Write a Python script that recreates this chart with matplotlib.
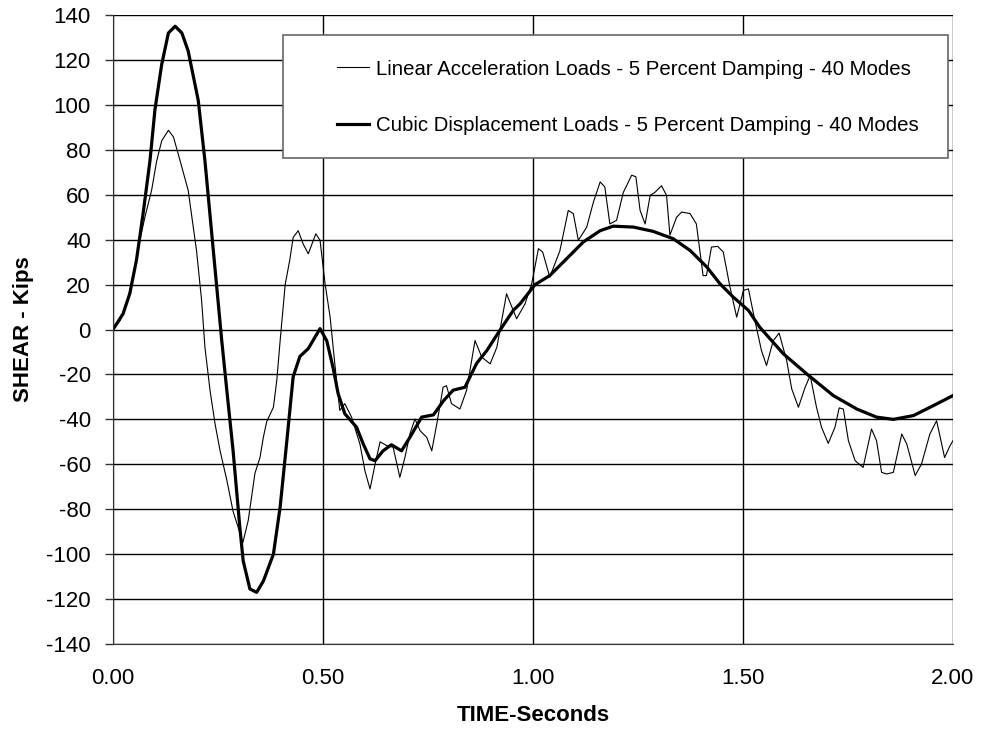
import matplotlib
matplotlib.use('Agg')
import matplotlib.pyplot as plt
from matplotlib.patches import Rectangle
import numpy as np

plt.rcParams['font.family'] = ['Liberation Sans', 'DejaVu Sans']
plt.rcParams['axes.unicode_minus'] = False

# cubic displacement loads (thick line)
t_cubic = [0.0, 0.024, 0.040, 0.056, 0.072, 0.088, 0.100, 0.116, 0.132, 0.148, 0.164, 0.179,
           0.203, 0.219, 0.239, 0.259, 0.271, 0.286, 0.302, 0.310, 0.326, 0.342, 0.358, 0.382,
           0.398, 0.414, 0.429, 0.445, 0.465, 0.493, 0.509, 0.524, 0.536, 0.552, 0.580, 0.596,
           0.612, 0.624, 0.643, 0.663, 0.687, 0.707, 0.735, 0.763, 0.787, 0.810, 0.838, 0.866,
           0.890, 0.921, 0.953, 0.969, 1.005, 1.040, 1.080, 1.120, 1.160, 1.191, 1.239, 1.286,
           1.334, 1.374, 1.414, 1.445, 1.477, 1.513, 1.540, 1.596, 1.652, 1.715, 1.771, 1.818,
           1.858, 1.906, 1.953, 2.0]
v_cubic = [0, 7, 16, 31, 52, 75, 98, 118, 132, 135, 132, 124,
           102, 75, 35, -5, -27, -54, -88, -103, -115.5, -117, -112, -100,
           -79, -49.5, -21, -12, -8.5, 0.4, -5, -17, -28.5, -37.5, -43.5, -51,
           -57.6, -58.4, -54, -51.3, -54, -48, -39, -38, -31.7, -27, -25.7, -15,
           -9.4, -0.4, 8.5, 11.4, 20, 24, 31.5, 39, 44, 46, 45.6, 43.7,
           40.4, 35.2, 27.8, 20.4, 14.4, 8.5, 1, -10.8, -19.8, -29.4, -35.4, -39,
           -40, -38.3, -33.9, -29.4]

# linear acceleration loads (thin line)
t_linear = [0.0, 0.017, 0.037, 0.056, 0.064, 0.076, 0.092, 0.104, 0.116, 0.132, 0.144, 0.160,
            0.179, 0.199, 0.211, 0.219, 0.231, 0.243, 0.255, 0.271, 0.286, 0.298, 0.309, 0.322,
            0.338, 0.350, 0.358, 0.366, 0.382, 0.390, 0.398, 0.410, 0.421, 0.429, 0.441, 0.453,
            0.465, 0.483, 0.493, 0.505, 0.517, 0.529, 0.540, 0.552, 0.568, 0.588, 0.600, 0.612,
            0.624, 0.636, 0.652, 0.667, 0.683, 0.695, 0.707, 0.719, 0.731, 0.747, 0.759, 0.771,
            0.786, 0.794, 0.806, 0.826, 0.842, 0.862, 0.878, 0.898, 0.914, 0.937, 0.961, 0.981,
            0.997, 1.013, 1.023, 1.040, 1.064, 1.084, 1.096, 1.108, 1.128, 1.144, 1.160, 1.171,
            1.183, 1.199, 1.215, 1.235, 1.245, 1.255, 1.267, 1.279, 1.290, 1.306, 1.318, 1.326,
            1.342, 1.354, 1.374, 1.389, 1.405, 1.413, 1.425, 1.440, 1.453, 1.469, 1.485, 1.501,
            1.513, 1.525, 1.544, 1.556, 1.572, 1.586, 1.604, 1.616, 1.632, 1.648, 1.660, 1.675,
            1.687, 1.703, 1.719, 1.729, 1.739, 1.751, 1.767, 1.786, 1.806, 1.818, 1.830, 1.842,
            1.858, 1.878, 1.890, 1.910, 1.925, 1.945, 1.961, 1.980, 1.993, 2.0]
v_linear = [0, 4, 14.4, 31, 39.7, 50, 62, 75, 84, 88.7, 85.7, 75,
            62, 35, 13, -8, -27, -42, -54, -67, -81, -88, -95, -85,
            -64, -57, -48, -41, -34.6, -22.7, -5, 20, 31, 41, 44, 38,
            33.7, 42.6, 39.7, 20.4, 5.5, -16.8, -36, -33, -39, -51, -63, -71,
            -60, -50, -51.7, -52.4, -65.8, -57, -46.5, -39.8, -45, -48, -54, -42,
            -25.7, -25, -33, -35.4, -27, -4.9, -12.3, -15.3, -7.9, 15.9, 4.8, 11.4,
            20.4, 36, 34.5, 23.3, 35, 53, 51.6, 39.7, 45.6, 56.8, 65.7, 63.5,
            47, 48.6, 61, 68.7, 68, 53, 47, 59.7, 61, 64, 59.7, 42,
            50, 52.3, 51.6, 47, 24, 24, 36.7, 37, 34.5, 18.9, 5.5, 17.4,
            18.1, 7, -9.4, -16, -5, -1.6, -13.8, -26.4, -34.6, -25.7, -20.5, -34.6,
            -43.5, -50.7, -43.5, -34.9, -35.4, -49.5, -58.4, -61.4, -44.3, -49.5, -63.6, -64.3,
            -63.6, -46.5, -51, -65, -59.9, -46.5, -40.6, -57, -51.7, -49.5]

x_ticks = [0.0, 0.5, 1.0, 1.5, 2.0]
y_ticks = list(range(-140, 141, 20))

fig = plt.figure(figsize=(9.85, 7.32), dpi=100)
ax = fig.add_axes([0.1147, 0.1202, 0.8528, 0.8593])

ax.plot(t_linear, v_linear, color='black', lw=0.8, zorder=2,
        label='Linear Acceleration Loads - 5 Percent Damping - 40 Modes')
ax.plot(t_cubic, v_cubic, color='black', lw=2.3, zorder=2,
        label='Cubic Displacement Loads - 5 Percent Damping - 40 Modes')

ax.set_xlim(0, 2)
ax.set_ylim(-140, 140)
ax.set_xticks(x_ticks)
ax.set_xticklabels([f'{v:.2f}' for v in x_ticks])
ax.set_yticks(y_ticks)
ax.tick_params(axis='y', labelsize=16, direction='out', length=6, width=1, color='#333333', pad=10)
ax.tick_params(axis='x', labelsize=16, length=0, pad=17)
ax.grid(True, color='black', lw=1)
ax.set_axisbelow(True)
for s in ['top', 'right']:
    ax.spines[s].set_visible(False)
for s in ['left', 'bottom']:
    ax.spines[s].set_color('#333333')

ax.set_xlabel('TIME-Seconds', fontsize=16, fontweight='bold', labelpad=12)
ax.set_ylabel('SHEAR - Kips', fontsize=16, fontweight='bold', labelpad=9)

# legend box (white, covers the grid)
ax.add_patch(Rectangle((0.2024, 0.773), 0.792, 0.195, transform=ax.transAxes,
                       facecolor='white', edgecolor='#666666', lw=1.2, zorder=3))
leg = ax.legend(loc='center left', bbox_to_anchor=(0.267, 0.869), frameon=False,
                fontsize=14.7, handlelength=1.55, handletextpad=0.35,
                labelspacing=1.85, borderpad=0, borderaxespad=0)
leg.set_zorder(4)

plt.savefig('out.png', dpi=100)
